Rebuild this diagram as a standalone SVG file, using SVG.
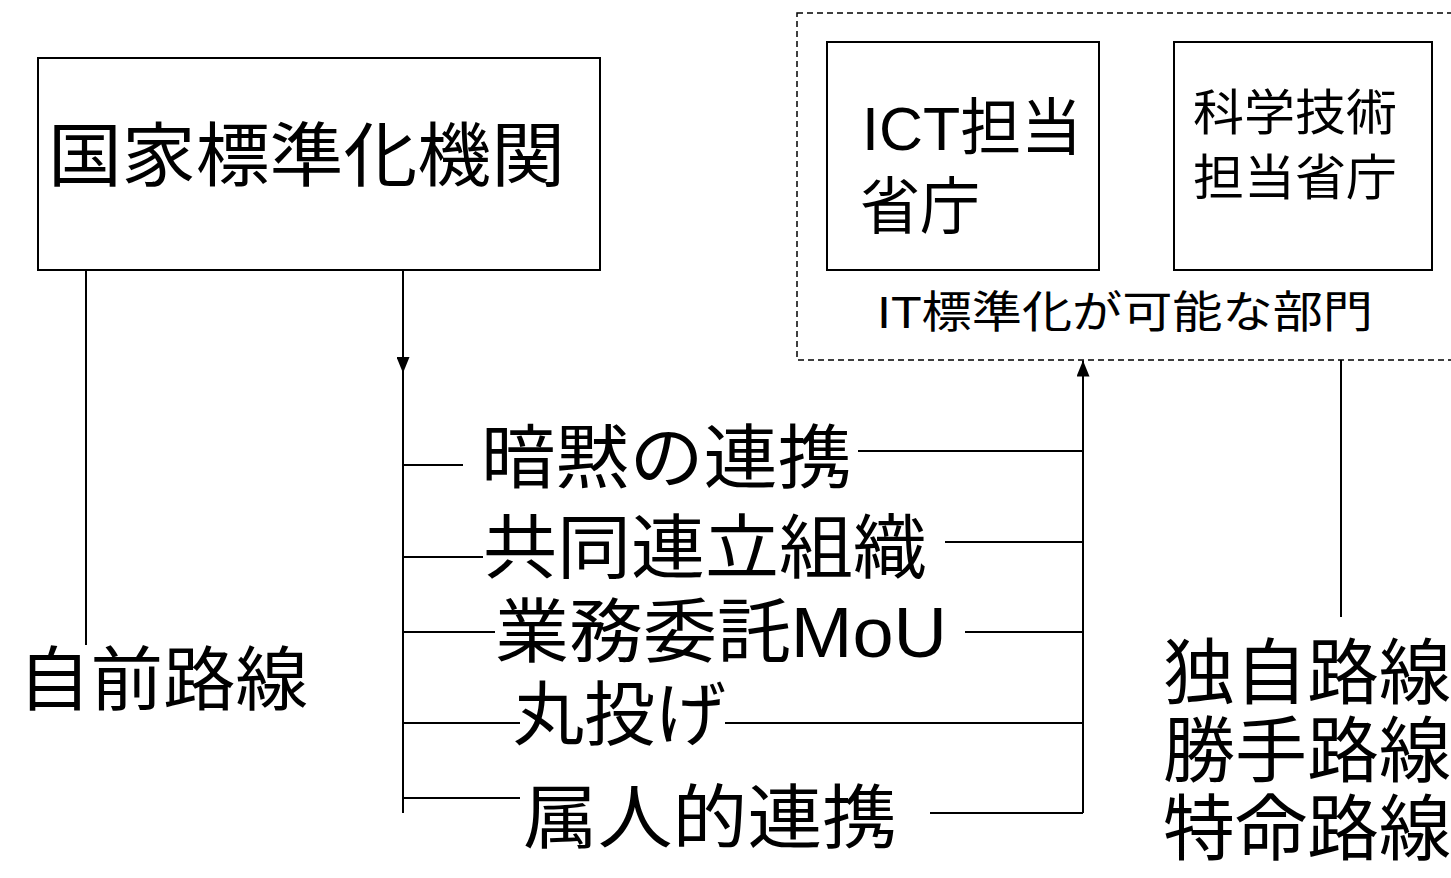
<svg xmlns="http://www.w3.org/2000/svg" width="1451" height="878" viewBox="0 0 1451 878">
<style>
text{font-family:"Liberation Sans","Noto Sans CJK JP",sans-serif;fill:#000}
.box{fill:#fff;stroke:#000;stroke-width:2}
.dash{fill:none;stroke:#000;stroke-width:1.5;stroke-dasharray:6,4}
.ln{fill:none;stroke:#000;stroke-width:2}
.big{font-size:70px}
</style>
<defs>
<marker id="ah" markerWidth="16" markerHeight="13" refX="16" refY="6.5" orient="auto" markerUnits="userSpaceOnUse" viewBox="0 0 16 13">
<path d="M0,0 L16,6.5 L0,13 Z" fill="#000"/>
</marker>
</defs>
<rect width="1451" height="878" fill="#fff"/>
<g id="it-dept">
<rect class="dash" x="797" y="13" width="680" height="347"/>
<text x="877" y="328" font-size="44" textLength="496" lengthAdjust="spacingAndGlyphs">IT標準化が可能な部門</text>
</g>
<g id="national-body">
<rect class="box" x="38" y="58" width="562" height="212"/>
<text class="big" x="48" y="181" textLength="517" lengthAdjust="spacingAndGlyphs">国家標準化機関</text>
</g>
<g id="ict">
<rect class="box" x="827" y="42" width="272" height="228"/>
<text x="862" y="150" font-size="62" textLength="220" lengthAdjust="spacingAndGlyphs">ICT担当</text>
<text x="860" y="229" font-size="62" textLength="120" lengthAdjust="spacingAndGlyphs">省庁</text>
</g>
<g id="sci">
<rect class="box" x="1174" y="42" width="258" height="228"/>
<text x="1193" y="130" font-size="49" textLength="204" lengthAdjust="spacingAndGlyphs">科学技術</text>
<text x="1193" y="195" font-size="49" textLength="204" lengthAdjust="spacingAndGlyphs">担当省庁</text>
</g>
<g id="connectors">
<line class="ln" x1="86" y1="270" x2="86" y2="645"/>
<line class="ln" x1="403" y1="270" x2="403" y2="373" marker-end="url(#ah)"/>
<line class="ln" x1="403" y1="373" x2="403" y2="813"/>
<line class="ln" x1="403" y1="465" x2="463" y2="465"/>
<line class="ln" x1="858" y1="451" x2="1083" y2="451"/>
<line class="ln" x1="403" y1="557" x2="483" y2="557"/>
<line class="ln" x1="945" y1="542" x2="1083" y2="542"/>
<line class="ln" x1="403" y1="632" x2="495" y2="632"/>
<line class="ln" x1="965" y1="632" x2="1083" y2="632"/>
<line class="ln" x1="403" y1="723" x2="520" y2="723"/>
<line class="ln" x1="725" y1="723" x2="1083" y2="723"/>
<line class="ln" x1="403" y1="798" x2="520" y2="798"/>
<line class="ln" x1="930" y1="813" x2="1083" y2="813"/>
<line class="ln" x1="1083" y1="813" x2="1083" y2="360.5" marker-end="url(#ah)"/>
<line class="ln" x1="1341" y1="360" x2="1341" y2="617"/>
</g>
<g id="own-route"><text class="big" x="18" y="705" textLength="290" lengthAdjust="spacingAndGlyphs">自前路線</text></g>
<g id="b1"><text class="big" x="481" y="483" textLength="371" lengthAdjust="spacingAndGlyphs">暗黙の連携</text></g>
<g id="b2"><text class="big" x="483" y="573" textLength="444" lengthAdjust="spacingAndGlyphs">共同連立組織</text></g>
<g id="b3"><text class="big" x="495" y="657" textLength="452" lengthAdjust="spacingAndGlyphs">業務委託MoU</text></g>
<g id="b4"><text class="big" x="513" y="740" textLength="213" lengthAdjust="spacingAndGlyphs">丸投げ</text></g>
<g id="b5"><text class="big" x="523" y="843" textLength="374" lengthAdjust="spacingAndGlyphs">属人的連携</text></g>
<g id="independent">
<text x="1163" y="698" font-size="72" textLength="288" lengthAdjust="spacingAndGlyphs">独自路線</text>
<text x="1163" y="776" font-size="72" textLength="288" lengthAdjust="spacingAndGlyphs">勝手路線</text>
<text x="1163" y="854" font-size="72" textLength="288" lengthAdjust="spacingAndGlyphs">特命路線</text>
</g>
</svg>
